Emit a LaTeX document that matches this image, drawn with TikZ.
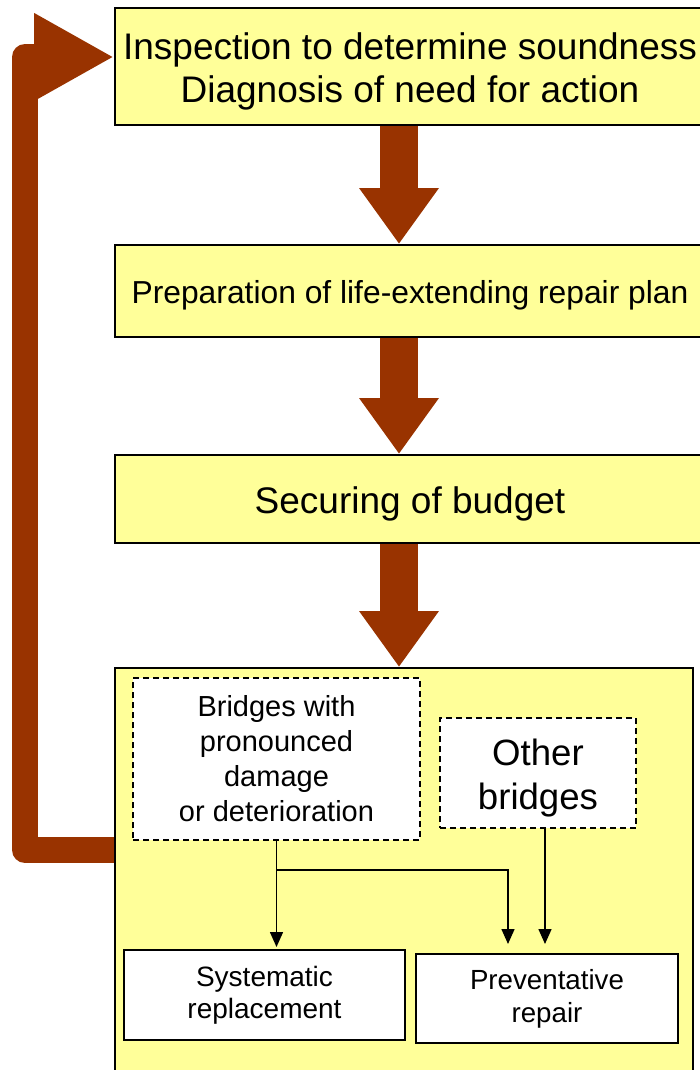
\documentclass[tikz,border=0pt]{standalone}
\usepackage{fontspec}
\setmainfont{Liberation Sans}
\usetikzlibrary{positioning}
\usetikzlibrary{calc}
\usetikzlibrary{arrows.meta}

\definecolor{boxyellow}{HTML}{FFFF99}
\definecolor{arrowbrown}{HTML}{993300}
\newcommand{\lowerline}{\rule{0pt}{1em}}

\begin{document}
\begin{tikzpicture}[x=1pt,y=-1pt,semithick]
					\tikzstyle{task}=[draw,fill=boxyellow,line width=2pt,inner sep=0pt,align=center]
					\tikzstyle{group}=[draw,fill=white,line width=1.5pt,dash pattern=on 6pt off 4pt,inner sep=0pt,align=center]
					\tikzstyle{measure}=[draw,fill=white,line width=2pt,inner sep=0pt,align=center]
					\tikzstyle{bigarrow}=[arrowbrown,line width=38pt,-{Triangle[length=56pt,width=76pt]}]
					\tikzstyle{feedback}=[arrowbrown,line width=26pt,line join=round,-{Triangle[length=80pt,width=82pt]}]
					\tikzstyle{thin}=[black,line width=1.5pt,-{Triangle[length=15pt,width=13pt]}]
					
					\useasboundingbox (0,0) rectangle (700,1070);
					
					\node[task,minimum width=590pt,minimum height=117pt,font=\fontsize{37}{43}\selectfont] (T_0) at (410,66.5)
					{\lowerline Inspection to determine soundness\\Diagnosis of need for action};
					\node[task,minimum width=590pt,minimum height=92pt,font=\fontsize{31.8}{38}\selectfont] (T_1) at (410,291)
					{\lowerline Preparation of life-extending repair plan};
					\node[task,minimum width=590pt,minimum height=88pt,font=\fontsize{37}{43}\selectfont] (T_2) at (410,499)
					{\lowerline Securing of budget};
					\node[task,minimum width=578pt,minimum height=412pt] (T_3) at (404,874) {};
					
					\node[group,minimum width=287pt,minimum height=162pt,font=\fontsize{29}{35}\selectfont] (G_0) at (276.5,759)
					{Bridges with\\pronounced\\damage\\or deterioration};
					\node[group,minimum width=196pt,minimum height=110pt,font=\fontsize{36.6}{44}\selectfont] (G_1) at (538,773)
					{\lowerline Other\\bridges};
					\node[measure,minimum width=281pt,minimum height=90pt,font=\fontsize{28}{32}\selectfont] (M_0) at (264.5,995)
					{Systematic\\replacement};
					\node[measure,minimum width=262pt,minimum height=89pt,font=\fontsize{27.7}{33}\selectfont] (M_1) at (547,998.5)
					{Preventative\\repair};
					
					\coordinate (split) at (276.5,870);
					\coordinate (fb_0) at (25,850);
					\coordinate (fb_1) at (25,57);
					
					\path ([xshift=-11pt]T_0.south) edge[bigarrow] ([xshift=-11pt]T_1.north)
					([xshift=-11pt]T_1.south) edge[bigarrow] ([xshift=-11pt]T_2.north)
					([xshift=-11pt]T_2.south) edge[bigarrow] ([xshift=-11pt]T_2.south |- T_3.north)
					;
					
					\draw[feedback] (T_3.west |- fb_0) -- (fb_0) -- (fb_1) -- (T_0.west |- fb_1);
					
					\draw[thin,shorten >=2pt] (G_0.south) -- (G_0.south |- M_0.north);
					\draw[thin,shorten >=9pt] (split) -| ([xshift=-39pt]M_1.north);
					\draw[thin,shorten >=9pt] ([xshift=7pt]G_1.south) -- ([xshift=7pt]G_1.south |- M_1.north);
					\end{tikzpicture}
\end{document}
